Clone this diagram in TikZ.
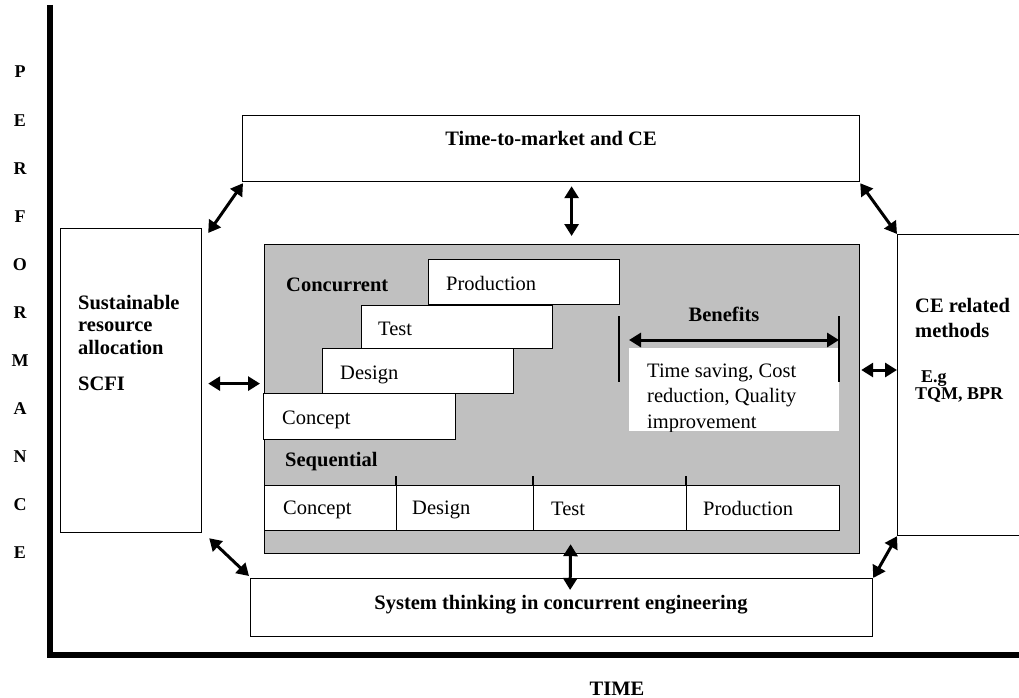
\documentclass[tikz,border=0pt]{standalone}
\usepackage{fontspec}
\setmainfont{Liberation Serif}
\usetikzlibrary{arrows.meta}
\definecolor{panel}{RGB}{192,192,192}
\begin{document}
\begin{tikzpicture}[x=1pt,y=-1pt,
  box/.style={draw, line width=1.2pt, fill=white, inner sep=0pt, anchor=north west},
  lbl/.style={font=\fontsize{20.5}{24}\selectfont, inner sep=0pt, anchor=base west},
  blbl/.style={font=\fontsize{20.5}{23}\selectfont\bfseries, inner sep=0pt, anchor=base west},
  smallbold/.style={font=\fontsize{18}{20}\selectfont\bfseries, inner sep=0pt, anchor=base west},
  axisletter/.style={font=\fontsize{18}{20}\selectfont\bfseries, inner sep=0pt, anchor=base},
  dbl/.style={line width=3pt, {Triangle[length=12pt,width=14pt]}-{Triangle[length=12pt,width=14pt]}},
  thinrule/.style={line width=1.2pt},
]
\useasboundingbox (0,0) rectangle (1019,698);

% axes
\draw[line width=6pt] (50,5) -- (50,658);
\draw[line width=6pt] (47,655) -- (1030,655);

% vertical axis caption
\foreach \ch [count=\i from 0] in {P,E,R,F,O,R,M,A,N,C,E}
  \node[axisletter] (perf\i) at (20,{78+48*\i}) {\ch};
\node[blbl, anchor=base] (time) at (617,695) {TIME};

% outer boxes
\node[box, minimum width=617pt, minimum height=66pt] (top) at (242,115) {};
\node[box, minimum width=141pt, minimum height=304pt] (left) at (60,228) {};
\node[box, minimum width=140pt, minimum height=301pt] (ce) at (897,234) {};
\node[box, minimum width=622pt, minimum height=58pt] (bot) at (250,578) {};

\node[blbl, anchor=base] (toptxt) at (551,146) {Time-to-market and CE};
\node[blbl] (sus1) at (78,309) {Sustainable};
\node[blbl] (sus2) at (78,331) {resource};
\node[blbl] (sus3) at (78,354) {allocation};
\node[blbl] (scfi) at (78,390) {SCFI};
\node[blbl] (ce1) at (915,312) {CE related};
\node[blbl] (ce2) at (915,337) {methods};
\node[smallbold] (ce3) at (921,382) {E.g};
\node[smallbold] (ce4) at (915,399) {TQM, BPR};
\node[blbl, anchor=base] (bottxt) at (561,609) {System thinking in concurrent engineering};

% central panel
\node[box, fill=panel, minimum width=595pt, minimum height=309pt] (grey) at (264,244) {};

% concurrent staircase
\node[box, minimum width=191pt, minimum height=45pt] (prodC) at (428,259) {};
\node[box, minimum width=191pt, minimum height=43pt] (testC) at (361,305) {};
\node[box, minimum width=191pt, minimum height=45pt] (desC) at (322,348) {};
\node[box, minimum width=192pt, minimum height=46pt] (conC) at (263,393) {};
\draw[thinrule] (prodC.south west) -- ++(-15,0);
\node[blbl] (conclbl) at (286,291) {Concurrent};
\node[lbl] (prodCt) at (446,290) {Production};
\node[lbl] (testCt) at (378,335) {Test};
\node[lbl] (desCt) at (340,379) {Design};
\node[lbl] (conCt) at (282,424) {Concept};

% sequential row
\node[blbl] (seqlbl) at (285,466) {Sequential};
\node[box, minimum width=132pt, minimum height=45pt] (conS) at (264,485) {};
\node[box, minimum width=137pt, minimum height=45pt] (desS) at (396,485) {};
\node[box, minimum width=153pt, minimum height=45pt] (testS) at (533,485) {};
\node[box, minimum width=153pt, minimum height=45pt] (prodS) at (686,485) {};
\foreach \n in {desS,testS,prodS}
  \draw[thinrule] (\n.north west) -- ++(0,-9);
\node[lbl] (conSt) at (283,514) {Concept};
\node[lbl] (desSt) at (412,514) {Design};
\node[lbl] (testSt) at (551,515) {Test};
\node[lbl] (prodSt) at (703,515) {Production};

% benefits
\node[fill=white, inner sep=0pt, anchor=north west, minimum width=210pt, minimum height=83pt] (benbox) at (629,348) {};
\begin{scope}
  \clip (benbox.north west) rectangle (benbox.south east);
  \node[lbl] (ben1) at (647,377) {Time saving, Cost};
  \node[lbl] (ben2) at (647,402) {reduction, Quality};
  \node[lbl] (ben3) at (647,428) {improvement};
\end{scope}
\coordinate (bl) at (619,316);
\coordinate (br) at (839,316);
\draw[thinrule] (bl) -- ++(0,66);
\draw[thinrule] (br) -- ++(0,66);
\node[blbl, anchor=base] (benlbl) at (724,321) {Benefits};
\draw[dbl] ([shift={(10,24)}]bl) -- ([shift={(0,24)}]br);

% links between the blocks
\draw[dbl] ([shift={(6,5)}]left.north east) -- ([shift={(1,1)}]top.south west);
\draw[dbl] ([shift={(0,1)}]top.south east) -- (ce.north west);
\draw[dbl] ([shift={(7,5)}]left.south east) -- ([shift={(-1,-2)}]bot.north west);
\draw[dbl] (ce.south west) -- (bot.north east);
\draw[dbl] ([shift={(6,3)}]left.east) -- ([shift={(-4,3)}]left.east -| grey.west);
\draw[dbl] ([shift={(1,0)}]grey.east |- 0,370) -- (ce.west |- 0,370);
\draw[dbl] ([shift={(20.5,4)}]top.south) -- ([shift={(9.5,-8)}]grey.north);
\draw[dbl] ([shift={(8.5,-10)}]grey.south) -- ([shift={(8.5,12)}]bot.north);
\end{tikzpicture}
\end{document}
